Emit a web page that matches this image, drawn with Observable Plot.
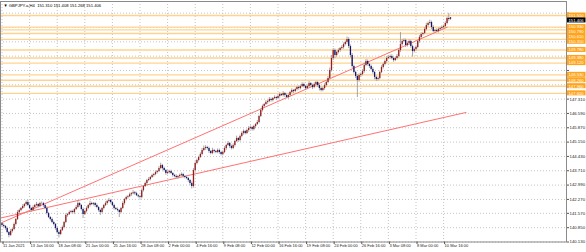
<!DOCTYPE html>
<html><head><meta charset="utf-8">
<script src="https://cdn.jsdelivr.net/npm/d3@7"></script>
<script src="https://cdn.jsdelivr.net/npm/@observablehq/plot@0.6"></script>
<style>body{margin:0;background:#fff;} svg{display:block}</style>
</head><body><div id="chart"></div>
<script>
const headerText = "\u25BC GBPJPY.a,H4  151.310 151.408 151.268 151.406";
const firstOpen = 141.05;
const closes = [
140.96,140.91,140.81,140.61,140.46,140.66,140.76,141.01,141.26,141.61,141.71,141.81,141.91,142.01,142.11,141.96,
141.81,141.71,141.86,141.96,142.01,141.91,142.06,142.06,141.96,141.81,141.56,141.36,141.26,141.11,141.01,140.81,
140.61,140.51,140.71,140.86,141.11,141.46,141.51,141.61,141.66,141.61,141.76,141.86,142.06,141.96,141.76,141.51,
141.66,141.81,141.96,142.06,142.01,142.06,141.96,141.86,141.71,141.61,141.81,141.96,142.06,142.16,142.21,142.11,
141.96,141.81,141.76,141.71,141.61,141.81,142.06,142.26,142.36,142.41,142.51,142.56,142.61,142.56,142.46,142.41,
142.36,142.71,142.92,143.07,143.22,143.27,143.37,143.47,143.52,143.62,143.67,143.82,143.97,143.82,143.72,143.57,
143.62,143.67,143.57,143.47,143.42,143.37,143.42,143.47,143.52,143.42,143.37,143.32,143.22,143.07,142.92,143.72,
144.07,144.23,144.38,144.53,144.73,144.83,144.88,144.83,144.68,144.58,144.73,144.68,144.63,144.73,144.63,144.53,
144.63,144.83,144.98,145.08,144.93,144.83,144.98,145.18,145.33,145.23,145.43,145.58,145.68,145.58,145.73,145.83,
145.88,145.78,145.93,146.03,146.14,146.44,146.74,146.94,147.04,147.14,147.19,147.29,147.24,147.34,147.39,147.34,
147.44,147.54,147.49,147.59,147.49,147.39,147.49,147.64,147.74,147.69,147.79,147.89,147.84,147.94,148.04,147.94,
147.84,147.94,148.09,147.99,147.89,148.04,148.14,147.99,147.84,147.74,147.84,147.99,148.14,148.35,148.75,149.35,
149.75,149.50,149.65,149.75,149.85,149.90,150.05,150.16,150.31,149.95,149.50,148.95,148.65,148.45,148.25,148.50,
148.55,148.70,149.00,149.20,149.05,148.95,148.80,148.65,148.40,148.30,148.35,148.65,148.90,149.05,149.20,149.35,
149.40,149.45,149.35,149.25,149.35,149.45,149.75,150.05,150.20,150.26,150.00,150.10,150.20,149.95,149.70,149.80,
149.90,150.21,150.41,150.56,150.61,150.81,151.01,151.11,151.16,150.91,150.71,150.76,150.71,150.81,150.86,150.91,
150.96,151.11,151.36,151.31,151.406];
const wickUp = [
.06,.08,.05,.07,.05,.10,.06,.08,.05,.09,.07,.06,.10,.05,.08,.12,
.07,.05,.09,.06,.11,.05,.07,.08,.06,.05,.09,.06,.05,.08,.07,.05,
.06,.08,.05,.07,.06,.09,.05,.08,.06,.07,.05,.10,.14,.06,.05,.08,
.06,.09,.05,.12,.07,.05,.06,.08,.05,.07,.06,.05,.09,.07,.11,.06,
.05,.07,.06,.08,.05,.06,.09,.05,.07,.06,.08,.05,.10,.06,.07,.05,
.06,.08,.05,.07,.06,.09,.05,.07,.06,.08,.05,.10,.12,.06,.07,.05,
.08,.06,.07,.05,.06,.09,.05,.07,.08,.06,.05,.07,.06,.05,.08,.10,
.09,.07,.06,.08,.10,.12,.09,.06,.07,.05,.11,.06,.05,.08,.07,.06,
.07,.09,.06,.10,.05,.07,.08,.06,.12,.05,.07,.09,.08,.06,.07,.10,
.08,.06,.07,.05,.09,.06,.08,.07,.05,.09,.06,.10,.07,.05,.08,.06,
.07,.09,.06,.10,.05,.07,.08,.06,.09,.05,.07,.06,.08,.05,.09,.07,
.06,.08,.10,.05,.07,.09,.06,.05,.08,.07,.06,.09,.07,.10,.12,.15,
.10,.08,.07,.09,.06,.10,.08,.07,.12,.09,.08,.10,.07,.06,.09,.08,
.07,.09,.12,.10,.08,.06,.07,.09,.05,.07,.08,.06,.09,.07,.08,.10,
.08,.07,.09,.06,.08,.10,.09,.61,.10,.08,.07,.09,.08,.06,.07,.08,
.09,.07,.10,.08,.06,.09,.11,.08,.12,.07,.09,.06,.08,.07,.06,.08,
.07,.09,.08,.26,.002];
const wickDn = [
.07,.05,.09,.06,.12,.05,.08,.06,.07,.05,.09,.06,.05,.08,.07,.06,
.06,.09,.05,.07,.06,.08,.05,.07,.09,.06,.07,.05,.08,.06,.07,.09,
.08,.18,.06,.05,.07,.06,.08,.05,.07,.06,.09,.05,.06,.08,.07,.20,
.05,.07,.06,.08,.05,.07,.09,.06,.08,.15,.06,.07,.05,.08,.06,.07,
.06,.08,.05,.07,.25,.06,.05,.08,.06,.07,.05,.09,.06,.08,.05,.07,
.08,.06,.07,.05,.09,.06,.07,.05,.08,.06,.07,.05,.06,.08,.07,.09,
.06,.07,.05,.08,.06,.07,.09,.05,.06,.08,.07,.06,.09,.10,.12,.08,
.07,.06,.08,.05,.07,.06,.09,.08,.10,.07,.06,.08,.07,.06,.09,.08,
.07,.06,.09,.05,.10,.07,.06,.08,.05,.09,.07,.06,.08,.07,.05,.09,
.06,.08,.07,.09,.05,.07,.06,.08,.07,.05,.09,.06,.08,.07,.05,.09,
.06,.08,.05,.07,.10,.06,.08,.07,.05,.09,.06,.07,.08,.06,.05,.07,
.09,.06,.08,.07,.10,.06,.08,.09,.12,.07,.06,.08,.07,.06,.09,.08,
.10,.15,.08,.07,.09,.06,.08,.07,.09,.10,.12,.09,.08,.10,.86,.09,
.08,.07,.09,.06,.08,.10,.07,.09,.12,.10,.08,.07,.06,.08,.07,.09,
.06,.08,.07,.09,.06,.08,.07,.09,.08,.06,.10,.07,.09,.08,.28,.07,
.08,.06,.09,.07,.08,.06,.07,.09,.08,.10,.07,.09,.06,.08,.07,.06,
.08,.06,.07,.09,.042];
const xTickBars = [0,16,32,48,64,80,96,112,128,144,160,176,192,208,224,240,256];
const xTickLabels = ["11 Jan 2021","13 Jan 16:00","18 Jan 08:00","21 Jan 00:00","25 Jan 16:00","28 Jan 08:00","2 Feb 00:00","4 Feb 16:00","9 Feb 08:00","12 Feb 00:00","16 Feb 16:00","19 Feb 08:00","24 Feb 00:00","26 Feb 16:00","3 Mar 08:00","8 Mar 00:00","10 Mar 16:00"];
const yTicks = [140.130,140.850,141.570,142.270,142.990,143.710,144.430,145.150,145.870,146.590,147.310,148.030,148.750,149.470,150.190,150.910,151.630];
const levels = [151.510,150.930,150.790,150.610,150.310,149.780,149.380,149.120,148.530,148.260,147.960,147.600];
const lastPrice = 151.406;
const trendBars1 = [-1, 258];
const trendPrices1 = [141.07, 150.92];
const trendBars2 = [-1, 269];
const trendPrices2 = [141.33, 146.64];

const bars = closes.map((c, i) => {
  const o = i === 0 ? firstOpen : closes[i - 1];
  return {i, o, c, h: Math.max(o, c) + wickUp[i], l: Math.min(o, c) - wickDn[i]};
});
const trend1 = trendBars1.map((b, k) => ({b, p: trendPrices1[k]}));
const trend2 = trendBars2.map((b, k) => ({b, p: trendPrices2[k]}));

const W = 586, H = 252, mL = 0, mR = 20, mT = 1, mB = 10.5;
const pxPerBar = 1.725, firstX = 1.5;
const xMin = -firstX / pxPerBar;
const xMax = (W - mR - mL - firstX) / pxPerBar;
const pxPerPrice = 19.9;
const yMin = 140.13;
const yMax = yMin + (H - mB - mT) / pxPerPrice;
const labX1 = xMax + 1 / pxPerBar, labX2 = xMax + 19.5 / pxPerBar;
const labH = 2.5 / pxPerPrice;
const gapPrice = 4.9 / pxPerPrice;
const font = "Liberation Sans, Arial, sans-serif";

// right-edge price labels: stacked (like the terminal does) so that they do not collide
const rightLabels = levels.map(v => ({v, fill: "#ffa31a"})).concat([{v: lastPrice, fill: "#000"}])
  .sort((a, b) => b.v - a.v);
rightLabels.forEach((d, k) => {
  d.pos = d.v;
  if (k > 0 && rightLabels[k - 1].pos - d.pos < gapPrice) d.pos = rightLabels[k - 1].pos - gapPrice;
});
const covered = t => rightLabels.some(d => Math.abs(d.pos - t) < 5.2 / pxPerPrice);

const chart = Plot.plot({
  width: W, height: H,
  marginLeft: mL, marginRight: mR, marginTop: mT, marginBottom: mB,
  style: {fontFamily: font, background: "#fff", overflow: "visible"},
  x: {type: "linear", domain: [xMin, xMax]},
  y: {domain: [yMin, yMax]},
  color: {type: "identity"},
  marks: [
    Plot.gridY(yTicks, {stroke: "#c4c4c4", strokeOpacity: 1, strokeDasharray: "1,2"}),
    Plot.gridX(xTickBars, {stroke: "#c4c4c4", strokeOpacity: 1, strokeDasharray: "1,2"}),
    Plot.ruleY(levels, {stroke: "#ffd38f", strokeWidth: 1.4}),
    Plot.line(trend1, {x: "b", y: "p", stroke: "#ff7272", strokeWidth: 1, clip: true}),
    Plot.line(trend2, {x: "b", y: "p", stroke: "#ff7272", strokeWidth: 1, clip: true}),
    Plot.ruleX(bars, {x: "i", y1: "l", y2: "h", stroke: "#9c9c9c", strokeWidth: 0.9}),
    Plot.ruleX(bars, {x: "i", y1: "o", y2: "c", stroke: d => d.c >= d.o ? "#9a1c1c" : "#14146e", strokeWidth: 1.3}),
    Plot.frame({stroke: "#8a8a8a"}),
    Plot.axisY(yTicks, {anchor: "right", tickSize: 2, tickPadding: 1, fontSize: 4.3, tickFormat: d => covered(d) ? "" : d.toFixed(3), label: null, stroke: "#555", fill: "#222"}),
    Plot.axisX(xTickBars, {anchor: "bottom", tickSize: 2.5, tickPadding: 0, fontSize: 4, textAnchor: "start", dx: 1, tickFormat: (d, k) => xTickLabels[k], label: null, stroke: "#555", fill: "#222"}),
    Plot.rect(rightLabels, {x1: labX1, x2: labX2, y1: d => d.pos - labH, y2: d => d.pos + labH, fill: "fill"}),
    Plot.text(rightLabels, {x: labX1, dx: 1, y: "pos", text: d => d.v.toFixed(3), textAnchor: "start", fill: "#fff", fontSize: 4.2}),
    Plot.text([headerText], {frameAnchor: "top-left", dx: 3, dy: 2.5, lineAnchor: "top", text: d => d, fontSize: 4.2, fill: "#000"})
  ]
});
document.getElementById("chart").appendChild(chart);
</script>
</body></html>
